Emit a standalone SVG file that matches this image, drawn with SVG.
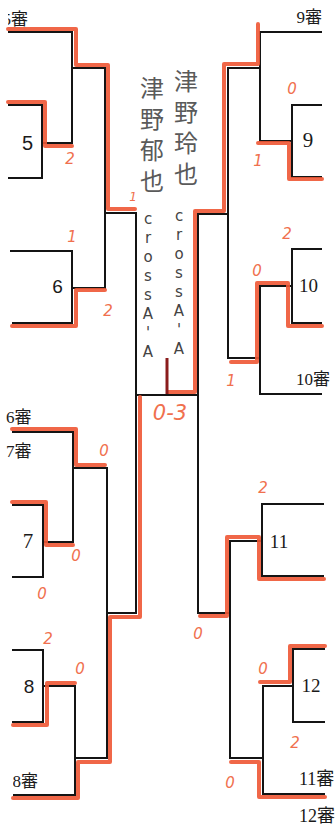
<svg xmlns="http://www.w3.org/2000/svg" width="336" height="828" viewBox="0 0 336 828">
<style>
.ln{fill:none;stroke:#141414;stroke-width:2;stroke-linejoin:miter}
.rd{fill:none;stroke:#ee5634;stroke-width:4;stroke-linejoin:round;stroke-linecap:round;opacity:0.9}
.sc{font-family:"DejaVu Sans",sans-serif;font-style:italic;font-size:15px;fill:#f0704e;text-anchor:middle}
.nm{font-family:"Liberation Serif",serif;font-size:19px;fill:#1a1a1a;text-anchor:middle}
.ns{font-family:"Liberation Sans",sans-serif;font-size:19px;fill:#1a1a1a;text-anchor:middle}
.sd{font-family:"Liberation Serif","Noto Sans CJK JP",serif;font-size:17px;fill:#1a1a1a}
.jp{font-family:"Noto Sans CJK JP",sans-serif;font-size:24px;fill:#5a5a5a;writing-mode:vertical-rl;letter-spacing:7px}
.cr{font-family:"DejaVu Sans",sans-serif;font-size:15px;fill:#444;writing-mode:vertical-rl;text-orientation:upright;letter-spacing:1px}
</style>
<defs>
<clipPath id="clipL"><rect x="8" y="0" width="328" height="828"/></clipPath>
<clipPath id="clipL2"><rect x="13" y="0" width="323" height="828"/></clipPath>
</defs>
<rect width="336" height="828" fill="#fff"/>
<g id="connectors">
<path class="ln" d="M8,32 H72 V143 H42"/>
<path class="ln" d="M8,105 H42 V178 H8"/>
<path class="ln" d="M72,68 H105 V288 H72"/>
<path class="ln" d="M10,251 H72 V323 H12"/>
<path class="ln" d="M105,213 H136 V613 H107"/>
<path class="ln" d="M136,395 H198"/>
<path class="ln" d="M12,432 H73 V542 H43"/>
<path class="ln" d="M12,505 H43 V577 H12"/>
<path class="ln" d="M73,468 H107 V758 H75"/>
<path class="ln" d="M12,650 H43 V722 H12"/>
<path class="ln" d="M43,686 H75 V795 H13"/>
<path class="ln" d="M322,32 H260 V141 H292"/>
<path class="ln" d="M322,105 H292 V177 H322"/>
<path class="ln" d="M260,68 H228 V358 H260"/>
<path class="ln" d="M322,249 H292 V323 H322"/>
<path class="ln" d="M292,286 H260 V394 H322"/>
<path class="ln" d="M228,214 H198 V613 H230"/>
<path class="ln" d="M324,504 H262 V576 H324"/>
<path class="ln" d="M262,541 H230 V758 H262"/>
<path class="ln" d="M325,649 H293 V722 H325"/>
<path class="ln" d="M293,686 H263 V794 H325"/>
</g>
<g id="highlights">
<path class="rd" d="M8,29 H76 V65 H108 V209 H135"/>
<path class="rd" d="M8,102 H45 V146 H72"/>
<path class="rd" d="M12,326 H76 V290 H105"/>
<path class="rd" d="M12,429 H76 V465 H105"/>
<path class="rd" d="M12,502 H46 V545 H73"/>
<path class="rd" d="M13,725 H47 V683 H75"/>
<path class="rd" d="M13,798 H78 V762 H110 V617 H140 V397"/>
<path class="rd" d="M258,24 V64 H224 V211 H195 V392 H168"/>
<path class="rd" d="M322,179 H289 V143 H258"/>
<path class="rd" d="M322,326 H288 V283 H257 V362 H231"/>
<path class="rd" d="M324,579 H259 V537 H227 V616 H200"/>
<path class="rd" d="M325,646 H290 V682 H260"/>
<path class="rd" d="M325,797 H259 V762 H231"/>
<path d="M167,358 V394" fill="none" stroke="#8a1c1c" stroke-width="3"/>
</g>
<g id="seeds">
<g id="seed5" clip-path="url(#clipL)"><text class="sd" x="28" y="25" text-anchor="end">5審</text></g>
<g id="seed9"><text class="sd" x="322" y="23" text-anchor="end">9審</text></g>
<g id="seed10"><text class="sd" x="296" y="385">10審</text></g>
<g id="seed6"><text class="sd" x="6" y="423">6審</text></g>
<g id="seed7"><text class="sd" x="6" y="457">7審</text></g>
<g id="seed8" clip-path="url(#clipL2)"><text class="sd" x="38" y="787" text-anchor="end">8審</text></g>
<g id="seed11"><text class="sd" x="299" y="785" style="font-size:18px">11審</text></g>
<g id="seed12"><text class="sd" x="299" y="822" style="font-size:18px">12審</text></g>
</g>
<g id="matches">
<g id="m5"><text class="ns" x="27.5" y="150" style="font-size:20px">5</text></g>
<g id="m6"><text class="ns" x="57.5" y="293">6</text></g>
<g id="m7"><text class="nm" x="28" y="548" style="font-size:21px">7</text></g>
<g id="m8"><text class="ns" x="29" y="693">8</text></g>
<g id="m9"><text class="nm" x="308" y="147" style="font-size:21px">9</text></g>
<g id="m10"><text class="nm" x="308.5" y="292">10</text></g>
<g id="m11"><text class="nm" x="279" y="548">11</text></g>
<g id="m12"><text class="nm" x="311" y="692">12</text></g>
</g>
<g id="final">
<text class="jp" x="152" y="76">津野郁也</text>
<text class="jp" x="186" y="69">津野玲也</text>
<text class="cr" x="148" y="210">crossA'A</text>
<text class="cr" x="179" y="207">crossA'A</text>
</g>
<g id="scores">
<text class="sc" x="70" y="164">2</text>
<text class="sc" x="72" y="242">1</text>
<text class="sc" x="108" y="316">2</text>
<text class="sc" x="133" y="201" style="font-size:12px">1</text>
<text class="sc" x="104" y="456">0</text>
<text class="sc" x="76" y="561">0</text>
<text class="sc" x="42" y="599">0</text>
<text class="sc" x="48" y="644">2</text>
<text class="sc" x="80" y="674">0</text>
<text class="sc" x="170" y="420" style="font-size:21px">0-3</text>
<text class="sc" x="292" y="94">0</text>
<text class="sc" x="258" y="166">1</text>
<text class="sc" x="287" y="239">2</text>
<text class="sc" x="257" y="276">0</text>
<text class="sc" x="231" y="386">1</text>
<text class="sc" x="263" y="493">2</text>
<text class="sc" x="198" y="639">0</text>
<text class="sc" x="263" y="674">0</text>
<text class="sc" x="295" y="748">2</text>
<text class="sc" x="230" y="788">0</text>
</g>
</svg>
